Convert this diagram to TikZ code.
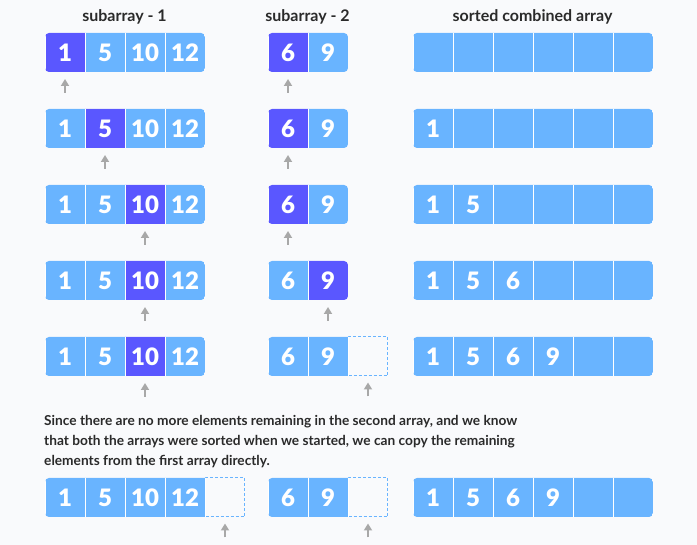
\documentclass[tikz,border=0pt]{standalone}
\usepackage{fontspec}
\setmainfont{Lato}
\newfontfamily\numfont{Lato Black}
\usepackage{xcolor}
\definecolor{msblue}{RGB}{105,180,255}
\definecolor{msdark}{RGB}{90,87,255}
\definecolor{msgray}{RGB}{168,168,168}
\definecolor{msbg}{RGB}{249,250,252}
\definecolor{mstext}{RGB}{42,42,42}
\usepackage{tikz}
\usetikzlibrary{arrows.meta}
\tikzset{
  cell/.style={draw=white,line width=1pt,fill=msblue,minimum width=40pt,minimum height=40pt,
    inner sep=0pt,text=white,font=\fontsize{24}{24}\selectfont\numfont},
  hole/.style={draw=msblue,line width=1pt,dash pattern=on 3pt off 2pt,minimum width=39pt,
    minimum height=39pt,inner sep=0pt},
  ptr/.style={draw=msgray,line width=1.8pt,shorten >=6pt,-{Triangle[width=8pt,length=7pt]}},
  title/.style={text=mstext,font=\fontsize{16}{18}\selectfont\bfseries,anchor=base},
}
% #1 name, #2 centre y, #3 left x, #4 clip right x, #5 value/colour list
\newcommand{\arr}[5]{\begin{scope}
  \clip[rounded corners=4pt] (#3,#2-19.5) rectangle (#4,#2+19.5);
  \foreach \v/\c [count=\i] in {#5}
    \node[cell,fill=\c] (#1-\i) at ({#3+40*\i-20},#2) {\v};
  \end{scope}}
\newcommand{\ptrto}[1]{\draw[ptr] ([yshift=-20pt]#1.south) -- (#1.south);}

\begin{document}
\begin{tikzpicture}[x=1pt,y=-1pt]
\fill[msbg] (0,0) rectangle (697,545);
\useasboundingbox (0,0) rectangle (697,545);
% ---- naglowki ----
\node[title] (t1) at (124.5,21.7) {subarray - 1};
\node[title] (t2) at (307.5,21.7) {subarray - 2};
\node[title] (t3) at (532.5,21.7) {sorted combined array};
% ---- krok 1 ----
\arr{a1}{52.5}{45}{205}{1/msdark,5/msblue,10/msblue,12/msblue}
\arr{b1}{52.5}{268}{348}{6/msdark,9/msblue}
\arr{c1}{52.5}{413}{653}{{}/msblue,{}/msblue,{}/msblue,{}/msblue,{}/msblue,{}/msblue}
\ptrto{a1-1} \ptrto{b1-1}
% ---- krok 2 ----
\arr{a2}{128.5}{45}{205}{1/msblue,5/msdark,10/msblue,12/msblue}
\arr{b2}{128.5}{268}{348}{6/msdark,9/msblue}
\arr{c2}{128.5}{413}{653}{1/msblue,{}/msblue,{}/msblue,{}/msblue,{}/msblue,{}/msblue}
\ptrto{a2-2} \ptrto{b2-1}
% ---- krok 3 ----
\arr{a3}{204.5}{45}{205}{1/msblue,5/msblue,10/msdark,12/msblue}
\arr{b3}{204.5}{268}{348}{6/msdark,9/msblue}
\arr{c3}{204.5}{413}{653}{1/msblue,5/msblue,{}/msblue,{}/msblue,{}/msblue,{}/msblue}
\ptrto{a3-3} \ptrto{b3-1}
% ---- krok 4 ----
\arr{a4}{280.5}{45}{205}{1/msblue,5/msblue,10/msdark,12/msblue}
\arr{b4}{280.5}{268}{348}{6/msblue,9/msdark}
\arr{c4}{280.5}{413}{653}{1/msblue,5/msblue,6/msblue,{}/msblue,{}/msblue,{}/msblue}
\ptrto{a4-3} \ptrto{b4-2}
% ---- krok 5 (druga tablica pusta) ----
\arr{a5}{356.5}{45}{205}{1/msblue,5/msblue,10/msdark,12/msblue}
\node[hole] (b5-3) at (368,356.5) {};
\arr{b5}{356.5}{268}{354}{6/msblue,9/msblue}
\arr{c5}{356.5}{413}{653}{1/msblue,5/msblue,6/msblue,9/msblue,{}/msblue,{}/msblue}
\ptrto{a5-3} \ptrto{b5-3}
% ---- opis ----
\node[text=mstext,font=\fontsize{13.7}{20}\selectfont\bfseries,align=left,anchor=north west,inner sep=0pt]
  (note) at (44,415.5) {Since there are no more elements remaining in the second array, and we know\\
  that both the arrays were sorted when we started, we can copy the remaining\\
  elements from the first array directly.};
% ---- krok 6 ----
\node[hole] (a6-5) at (225,497.5) {};
\arr{a6}{497.5}{45}{211}{1/msblue,5/msblue,10/msblue,12/msblue}
\node[hole] (b6-3) at (368,497.5) {};
\arr{b6}{497.5}{268}{354}{6/msblue,9/msblue}
\arr{c6}{497.5}{413}{653}{1/msblue,5/msblue,6/msblue,9/msblue,{}/msblue,{}/msblue}
\ptrto{a6-5} \ptrto{b6-3}
\end{tikzpicture}
\end{document}
